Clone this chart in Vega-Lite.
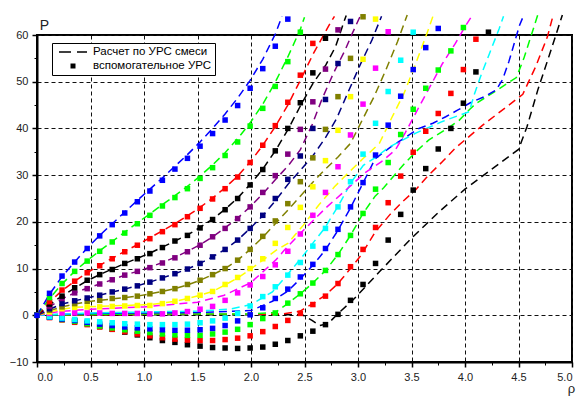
{
"$schema":"https://vega.github.io/schema/vega-lite/v6.json",
"width":535,"height":327,
"autosize":{"type":"none"},
"padding":{"left":37,"top":35,"right":6,"bottom":35},
"background":"white",
"config":{"view":{"stroke":"black","strokeWidth":2},"font":"Liberation Sans"},
"datasets":{
"pts":[
{"s":1,"r":0,"p":0},{"s":1,"r":0.117,"p":-0.3},{"s":1,"r":0.234,"p":-0.7},{"s":1,"r":0.352,"p":-1.2},{"s":1,"r":0.469,"p":-1.8},{"s":1,"r":0.586,"p":-2.4},{"s":1,"r":0.703,"p":-3.0},{"s":1,"r":0.82,"p":-3.6},{"s":1,"r":0.938,"p":-4.2},{"s":1,"r":1.055,"p":-4.8},{"s":1,"r":1.172,"p":-5.4},{"s":1,"r":1.289,"p":-5.8},{"s":1,"r":1.406,"p":-6.3},{"s":1,"r":1.524,"p":-6.6},{"s":1,"r":1.641,"p":-6.9},{"s":1,"r":1.758,"p":-7.0},{"s":1,"r":1.875,"p":-7.1},{"s":1,"r":1.992,"p":-7.0},{"s":1,"r":2.11,"p":-6.8},{"s":1,"r":2.227,"p":-6.2},{"s":1,"r":2.344,"p":-5.4},{"s":1,"r":2.461,"p":-4.4},{"s":1,"r":2.578,"p":-3.4},{"s":1,"r":2.696,"p":-2.0},{"s":1,"r":2.813,"p":0.2},{"s":1,"r":2.93,"p":3.2},{"s":1,"r":3.047,"p":6.6},{"s":1,"r":3.164,"p":11.1},{"s":1,"r":3.282,"p":16.1},{"s":1,"r":3.399,"p":21.6},{"s":1,"r":3.516,"p":26.8},{"s":1,"r":3.633,"p":31.4},{"s":1,"r":3.75,"p":35.6},{"s":1,"r":3.868,"p":40.0},{"s":1,"r":3.985,"p":45.4},{"s":1,"r":4.102,"p":52.1},{"s":1,"r":4.219,"p":60.6},
{"s":2,"r":0,"p":0},{"s":2,"r":0.117,"p":-0.5},{"s":2,"r":0.234,"p":-1.0},{"s":2,"r":0.352,"p":-1.5},{"s":2,"r":0.469,"p":-2.0},{"s":2,"r":0.586,"p":-2.5},{"s":2,"r":0.703,"p":-3.0},{"s":2,"r":0.82,"p":-3.5},{"s":2,"r":0.938,"p":-4.0},{"s":2,"r":1.055,"p":-4.4},{"s":2,"r":1.172,"p":-4.8},{"s":2,"r":1.289,"p":-5.1},{"s":2,"r":1.406,"p":-5.3},{"s":2,"r":1.524,"p":-5.4},{"s":2,"r":1.641,"p":-5.4},{"s":2,"r":1.758,"p":-5.2},{"s":2,"r":1.875,"p":-4.9},{"s":2,"r":1.992,"p":-4.4},{"s":2,"r":2.11,"p":-3.5},{"s":2,"r":2.227,"p":-2.4},{"s":2,"r":2.344,"p":-1.1},{"s":2,"r":2.461,"p":0.4},{"s":2,"r":2.578,"p":2.3},{"s":2,"r":2.696,"p":4.1},{"s":2,"r":2.813,"p":6.8},{"s":2,"r":2.93,"p":10.4},{"s":2,"r":3.047,"p":14.1},{"s":2,"r":3.164,"p":18.8},{"s":2,"r":3.282,"p":24.1},{"s":2,"r":3.399,"p":29.8},{"s":2,"r":3.516,"p":34.9},{"s":2,"r":3.633,"p":39.4},{"s":2,"r":3.75,"p":43.2},{"s":2,"r":3.868,"p":47.5},{"s":2,"r":3.985,"p":52.6},{"s":2,"r":4.102,"p":59.1},
{"s":3,"r":0,"p":0},{"s":3,"r":0.117,"p":-0.4},{"s":3,"r":0.234,"p":-0.9},{"s":3,"r":0.352,"p":-1.3},{"s":3,"r":0.469,"p":-1.8},{"s":3,"r":0.586,"p":-2.3},{"s":3,"r":0.703,"p":-2.7},{"s":3,"r":0.82,"p":-3.1},{"s":3,"r":0.938,"p":-3.4},{"s":3,"r":1.055,"p":-3.7},{"s":3,"r":1.172,"p":-4.0},{"s":3,"r":1.289,"p":-4.2},{"s":3,"r":1.406,"p":-4.3},{"s":3,"r":1.524,"p":-4.3},{"s":3,"r":1.641,"p":-4.0},{"s":3,"r":1.758,"p":-3.6},{"s":3,"r":1.875,"p":-3.0},{"s":3,"r":1.992,"p":-2.0},{"s":3,"r":2.11,"p":-0.7},{"s":3,"r":2.227,"p":0.5},{"s":3,"r":2.344,"p":2.6},{"s":3,"r":2.461,"p":4.6},{"s":3,"r":2.578,"p":6.9},{"s":3,"r":2.696,"p":9.6},{"s":3,"r":2.813,"p":13.0},{"s":3,"r":2.93,"p":17.1},{"s":3,"r":3.047,"p":21.8},{"s":3,"r":3.164,"p":27.0},{"s":3,"r":3.282,"p":32.7},{"s":3,"r":3.399,"p":38.7},{"s":3,"r":3.516,"p":44.1},{"s":3,"r":3.633,"p":48.6},{"s":3,"r":3.75,"p":52.5},{"s":3,"r":3.868,"p":56.6},{"s":3,"r":3.985,"p":61.6},
{"s":4,"r":0,"p":0},{"s":4,"r":0.117,"p":-0.4},{"s":4,"r":0.234,"p":-0.8},{"s":4,"r":0.352,"p":-1.1},{"s":4,"r":0.469,"p":-1.5},{"s":4,"r":0.586,"p":-1.9},{"s":4,"r":0.703,"p":-2.2},{"s":4,"r":0.82,"p":-2.5},{"s":4,"r":0.938,"p":-2.7},{"s":4,"r":1.055,"p":-2.9},{"s":4,"r":1.172,"p":-3.1},{"s":4,"r":1.289,"p":-3.2},{"s":4,"r":1.406,"p":-3.2},{"s":4,"r":1.524,"p":-3.1},{"s":4,"r":1.641,"p":-2.8},{"s":4,"r":1.758,"p":-2.2},{"s":4,"r":1.875,"p":-1.2},{"s":4,"r":1.992,"p":0.1},{"s":4,"r":2.11,"p":1.6},{"s":4,"r":2.227,"p":3.6},{"s":4,"r":2.344,"p":5.6},{"s":4,"r":2.461,"p":8.2},{"s":4,"r":2.578,"p":10.9},{"s":4,"r":2.696,"p":14.3},{"s":4,"r":2.813,"p":18.4},{"s":4,"r":2.93,"p":23.2},{"s":4,"r":3.047,"p":28.4},{"s":4,"r":3.164,"p":34.3},{"s":4,"r":3.282,"p":40.7},{"s":4,"r":3.399,"p":46.9},{"s":4,"r":3.516,"p":52.6},{"s":4,"r":3.633,"p":57.3},{"s":4,"r":3.75,"p":61.4},
{"s":5,"r":0,"p":0},{"s":5,"r":0.117,"p":-0.3},{"s":5,"r":0.234,"p":-0.6},{"s":5,"r":0.352,"p":-0.9},{"s":5,"r":0.469,"p":-1.2},{"s":5,"r":0.586,"p":-1.4},{"s":5,"r":0.703,"p":-1.6},{"s":5,"r":0.82,"p":-1.8},{"s":5,"r":0.938,"p":-1.9},{"s":5,"r":1.055,"p":-2.0},{"s":5,"r":1.172,"p":-2.0},{"s":5,"r":1.289,"p":-2.0},{"s":5,"r":1.406,"p":-1.9},{"s":5,"r":1.524,"p":-1.6},{"s":5,"r":1.641,"p":-1.2},{"s":5,"r":1.758,"p":-0.6},{"s":5,"r":1.875,"p":0.4},{"s":5,"r":1.992,"p":2.0},{"s":5,"r":2.11,"p":4.0},{"s":5,"r":2.227,"p":6.1},{"s":5,"r":2.344,"p":8.6},{"s":5,"r":2.461,"p":11.3},{"s":5,"r":2.578,"p":14.8},{"s":5,"r":2.696,"p":18.6},{"s":5,"r":2.813,"p":23.2},{"s":5,"r":2.93,"p":28.6},{"s":5,"r":3.047,"p":34.5},{"s":5,"r":3.164,"p":41.1},{"s":5,"r":3.282,"p":47.9},{"s":5,"r":3.399,"p":54.6},{"s":5,"r":3.516,"p":60.6},
{"s":6,"r":0,"p":0},{"s":6,"r":0.117,"p":0.4},{"s":6,"r":0.234,"p":0.5},{"s":6,"r":0.352,"p":0.5},{"s":6,"r":0.469,"p":0.5},{"s":6,"r":0.586,"p":0.5},{"s":6,"r":0.703,"p":0.4},{"s":6,"r":0.82,"p":0.4},{"s":6,"r":0.938,"p":0.4},{"s":6,"r":1.055,"p":0.3},{"s":6,"r":1.172,"p":0.3},{"s":6,"r":1.289,"p":0.5},{"s":6,"r":1.406,"p":0.8},{"s":6,"r":1.524,"p":1.3},{"s":6,"r":1.641,"p":1.9},{"s":6,"r":1.758,"p":3.2},{"s":6,"r":1.875,"p":4.8},{"s":6,"r":1.992,"p":6.5},{"s":6,"r":2.11,"p":8.3},{"s":6,"r":2.227,"p":10.8},{"s":6,"r":2.344,"p":13.7},{"s":6,"r":2.461,"p":17.4},{"s":6,"r":2.578,"p":21.4},{"s":6,"r":2.696,"p":26.3},{"s":6,"r":2.813,"p":31.8},{"s":6,"r":2.93,"p":38.6},{"s":6,"r":3.047,"p":45.2},{"s":6,"r":3.164,"p":52.9},{"s":6,"r":3.282,"p":60.7},
{"s":7,"r":0,"p":0},{"s":7,"r":0.117,"p":0.7},{"s":7,"r":0.234,"p":1.4},{"s":7,"r":0.352,"p":1.7},{"s":7,"r":0.469,"p":1.8},{"s":7,"r":0.586,"p":1.8},{"s":7,"r":0.703,"p":1.9},{"s":7,"r":0.82,"p":2.0},{"s":7,"r":0.938,"p":2.1},{"s":7,"r":1.055,"p":2.1},{"s":7,"r":1.172,"p":2.5},{"s":7,"r":1.289,"p":3.0},{"s":7,"r":1.406,"p":3.6},{"s":7,"r":1.524,"p":4.3},{"s":7,"r":1.641,"p":5.1},{"s":7,"r":1.758,"p":6.6},{"s":7,"r":1.875,"p":8.1},{"s":7,"r":1.992,"p":10.0},{"s":7,"r":2.11,"p":12.1},{"s":7,"r":2.227,"p":15.4},{"s":7,"r":2.344,"p":18.8},{"s":7,"r":2.461,"p":23.1},{"s":7,"r":2.578,"p":27.5},{"s":7,"r":2.696,"p":33.1},{"s":7,"r":2.813,"p":39.6},{"s":7,"r":2.93,"p":46.8},{"s":7,"r":3.047,"p":54.8},{"s":7,"r":3.164,"p":63.4},
{"s":8,"r":0,"p":0},{"s":8,"r":0.117,"p":1.1},{"s":8,"r":0.234,"p":1.8},{"s":8,"r":0.352,"p":2.5},{"s":8,"r":0.469,"p":3.0},{"s":8,"r":0.586,"p":3.2},{"s":8,"r":0.703,"p":3.6},{"s":8,"r":0.82,"p":3.8},{"s":8,"r":0.938,"p":4.1},{"s":8,"r":1.055,"p":4.6},{"s":8,"r":1.172,"p":5.1},{"s":8,"r":1.289,"p":5.7},{"s":8,"r":1.406,"p":6.6},{"s":8,"r":1.524,"p":7.5},{"s":8,"r":1.641,"p":8.7},{"s":8,"r":1.758,"p":10.0},{"s":8,"r":1.875,"p":11.8},{"s":8,"r":1.992,"p":14.1},{"s":8,"r":2.11,"p":16.9},{"s":8,"r":2.227,"p":20.2},{"s":8,"r":2.344,"p":23.9},{"s":8,"r":2.461,"p":28.6},{"s":8,"r":2.578,"p":33.7},{"s":8,"r":2.696,"p":39.8},{"s":8,"r":2.813,"p":46.8},{"s":8,"r":2.93,"p":55.0},{"s":8,"r":3.047,"p":63.9},
{"s":9,"r":0,"p":0},{"s":9,"r":0.117,"p":1.4},{"s":9,"r":0.234,"p":2.5},{"s":9,"r":0.352,"p":3.1},{"s":9,"r":0.469,"p":3.7},{"s":9,"r":0.586,"p":4.3},{"s":9,"r":0.703,"p":5.0},{"s":9,"r":0.82,"p":5.6},{"s":9,"r":0.938,"p":6.3},{"s":9,"r":1.055,"p":7.1},{"s":9,"r":1.172,"p":8.0},{"s":9,"r":1.289,"p":8.9},{"s":9,"r":1.406,"p":9.9},{"s":9,"r":1.524,"p":11.1},{"s":9,"r":1.641,"p":12.5},{"s":9,"r":1.758,"p":14.1},{"s":9,"r":1.875,"p":16.1},{"s":9,"r":1.992,"p":18.6},{"s":9,"r":2.11,"p":21.4},{"s":9,"r":2.227,"p":25.0},{"s":9,"r":2.344,"p":29.1},{"s":9,"r":2.461,"p":34.1},{"s":9,"r":2.578,"p":40.0},{"s":9,"r":2.696,"p":46.2},{"s":9,"r":2.813,"p":53.9},{"s":9,"r":2.93,"p":62.9},
{"s":10,"r":0,"p":0},{"s":10,"r":0.117,"p":1.9},{"s":10,"r":0.234,"p":3.6},{"s":10,"r":0.352,"p":4.8},{"s":10,"r":0.469,"p":5.7},{"s":10,"r":0.586,"p":6.7},{"s":10,"r":0.703,"p":7.6},{"s":10,"r":0.82,"p":8.6},{"s":10,"r":0.938,"p":9.4},{"s":10,"r":1.055,"p":10.2},{"s":10,"r":1.172,"p":11.2},{"s":10,"r":1.289,"p":12.3},{"s":10,"r":1.406,"p":13.6},{"s":10,"r":1.524,"p":15.0},{"s":10,"r":1.641,"p":16.8},{"s":10,"r":1.758,"p":18.6},{"s":10,"r":1.875,"p":20.7},{"s":10,"r":1.992,"p":23.2},{"s":10,"r":2.11,"p":26.3},{"s":10,"r":2.227,"p":29.9},{"s":10,"r":2.344,"p":34.5},{"s":10,"r":2.461,"p":39.8},{"s":10,"r":2.578,"p":45.7},{"s":10,"r":2.696,"p":52.7},{"s":10,"r":2.813,"p":61.1},
{"s":11,"r":0,"p":0},{"s":11,"r":0.117,"p":2.4},{"s":11,"r":0.234,"p":4.1},{"s":11,"r":0.352,"p":5.9},{"s":11,"r":0.469,"p":7.5},{"s":11,"r":0.586,"p":8.7},{"s":11,"r":0.703,"p":9.8},{"s":11,"r":0.82,"p":11.1},{"s":11,"r":0.938,"p":12.1},{"s":11,"r":1.055,"p":13.2},{"s":11,"r":1.172,"p":14.5},{"s":11,"r":1.289,"p":15.9},{"s":11,"r":1.406,"p":17.1},{"s":11,"r":1.524,"p":18.7},{"s":11,"r":1.641,"p":20.5},{"s":11,"r":1.758,"p":22.6},{"s":11,"r":1.875,"p":25.0},{"s":11,"r":1.992,"p":27.9},{"s":11,"r":2.11,"p":31.2},{"s":11,"r":2.227,"p":35.2},{"s":11,"r":2.344,"p":40.0},{"s":11,"r":2.461,"p":45.5},{"s":11,"r":2.578,"p":51.9},{"s":11,"r":2.696,"p":59.3},
{"s":12,"r":0,"p":0},{"s":12,"r":0.117,"p":2.9},{"s":12,"r":0.234,"p":5.4},{"s":12,"r":0.352,"p":7.3},{"s":12,"r":0.469,"p":9.1},{"s":12,"r":0.586,"p":10.6},{"s":12,"r":0.703,"p":12.1},{"s":12,"r":0.82,"p":13.6},{"s":12,"r":0.938,"p":15.0},{"s":12,"r":1.055,"p":16.4},{"s":12,"r":1.172,"p":17.9},{"s":12,"r":1.289,"p":19.4},{"s":12,"r":1.406,"p":21.1},{"s":12,"r":1.524,"p":22.9},{"s":12,"r":1.641,"p":24.9},{"s":12,"r":1.758,"p":27.1},{"s":12,"r":1.875,"p":29.6},{"s":12,"r":1.992,"p":32.7},{"s":12,"r":2.11,"p":36.4},{"s":12,"r":2.227,"p":40.6},{"s":12,"r":2.344,"p":45.6},{"s":12,"r":2.461,"p":51.4},{"s":12,"r":2.578,"p":58.2},
{"s":13,"r":0,"p":0},{"s":13,"r":0.117,"p":3.8},{"s":13,"r":0.234,"p":6.8},{"s":13,"r":0.352,"p":9.4},{"s":13,"r":0.469,"p":11.6},{"s":13,"r":0.586,"p":13.7},{"s":13,"r":0.703,"p":15.7},{"s":13,"r":0.82,"p":17.6},{"s":13,"r":0.938,"p":19.6},{"s":13,"r":1.055,"p":21.4},{"s":13,"r":1.172,"p":23.4},{"s":13,"r":1.289,"p":25.2},{"s":13,"r":1.406,"p":27.1},{"s":13,"r":1.524,"p":29.3},{"s":13,"r":1.641,"p":31.6},{"s":13,"r":1.758,"p":34.2},{"s":13,"r":1.875,"p":37.1},{"s":13,"r":1.992,"p":40.5},{"s":13,"r":2.11,"p":44.3},{"s":13,"r":2.227,"p":49.0},{"s":13,"r":2.344,"p":54.3},{"s":13,"r":2.461,"p":60.6},
{"s":14,"r":0,"p":0},{"s":14,"r":0.117,"p":4.7},{"s":14,"r":0.234,"p":8.4},{"s":14,"r":0.352,"p":11.4},{"s":14,"r":0.469,"p":14.3},{"s":14,"r":0.586,"p":17.0},{"s":14,"r":0.703,"p":19.4},{"s":14,"r":0.82,"p":21.9},{"s":14,"r":0.938,"p":24.3},{"s":14,"r":1.055,"p":26.6},{"s":14,"r":1.172,"p":28.9},{"s":14,"r":1.289,"p":31.3},{"s":14,"r":1.406,"p":33.6},{"s":14,"r":1.524,"p":36.2},{"s":14,"r":1.641,"p":38.9},{"s":14,"r":1.758,"p":41.8},{"s":14,"r":1.875,"p":44.9},{"s":14,"r":1.992,"p":48.6},{"s":14,"r":2.11,"p":52.8},{"s":14,"r":2.227,"p":57.6},{"s":14,"r":2.344,"p":63.4}
],
"lns":[
{"s":1,"r":0,"p":0},{"s":1,"r":1.0,"p":0.1},{"s":1,"r":2.0,"p":0.1},{"s":1,"r":2.48,"p":0.1},{"s":1,"r":2.57,"p":-1.1},{"s":1,"r":2.64,"p":-2.2},{"s":1,"r":2.72,"p":-1.8},{"s":1,"r":2.81,"p":0.3},{"s":1,"r":2.95,"p":3.2},{"s":1,"r":3.2,"p":9.3},{"s":1,"r":3.5,"p":16.5},{"s":1,"r":3.75,"p":22.0},{"s":1,"r":4.0,"p":27.0},{"s":1,"r":4.25,"p":31.3},{"s":1,"r":4.5,"p":35.5},{"s":1,"r":4.58,"p":40.4},{"s":1,"r":4.68,"p":48.2},{"s":1,"r":4.8,"p":56.5},{"s":1,"r":4.91,"p":64.3},
{"s":2,"r":0,"p":0},{"s":2,"r":1.0,"p":0.2},{"s":2,"r":2.0,"p":0.2},{"s":2,"r":2.3,"p":0.3},{"s":2,"r":2.46,"p":0.9},{"s":2,"r":2.578,"p":2.5},{"s":2,"r":2.696,"p":4.3},{"s":2,"r":2.813,"p":6.8},{"s":2,"r":2.93,"p":10.0},{"s":2,"r":3.03,"p":12.9},{"s":2,"r":3.16,"p":17.8},{"s":2,"r":3.3,"p":21.6},{"s":2,"r":3.42,"p":24.4},{"s":2,"r":3.54,"p":26.9},{"s":2,"r":3.66,"p":30.0},{"s":2,"r":3.79,"p":32.9},{"s":2,"r":3.91,"p":35.8},{"s":2,"r":4.04,"p":38.3},{"s":2,"r":4.16,"p":40.6},{"s":2,"r":4.29,"p":42.9},{"s":2,"r":4.41,"p":45.0},{"s":2,"r":4.54,"p":47.3},{"s":2,"r":4.66,"p":53.2},{"s":2,"r":4.77,"p":59.6},{"s":2,"r":4.82,"p":63.9},
{"s":3,"r":0,"p":0},{"s":3,"r":1.0,"p":0.3},{"s":3,"r":2.0,"p":0.3},{"s":3,"r":2.227,"p":0.6},{"s":3,"r":2.344,"p":2.5},{"s":3,"r":2.461,"p":4.6},{"s":3,"r":2.578,"p":6.9},{"s":3,"r":2.696,"p":9.6},{"s":3,"r":2.813,"p":13.0},{"s":3,"r":2.93,"p":17.1},{"s":3,"r":3.047,"p":21.8},{"s":3,"r":3.16,"p":25.5},{"s":3,"r":3.24,"p":27.3},{"s":3,"r":3.34,"p":30.0},{"s":3,"r":3.44,"p":32.6},{"s":3,"r":3.54,"p":35.0},{"s":3,"r":3.66,"p":37.5},{"s":3,"r":3.82,"p":39.8},{"s":3,"r":3.94,"p":41.6},{"s":3,"r":4.04,"p":44.0},{"s":3,"r":4.1,"p":45.3},{"s":3,"r":4.21,"p":46.9},{"s":3,"r":4.32,"p":48.5},{"s":3,"r":4.48,"p":50.9},{"s":3,"r":4.55,"p":55.0},{"s":3,"r":4.63,"p":60.7},{"s":3,"r":4.68,"p":64.3},
{"s":4,"r":0,"p":0},{"s":4,"r":0.5,"p":0.4},{"s":4,"r":1.0,"p":0.5},{"s":4,"r":1.5,"p":0.6},{"s":4,"r":2.0,"p":1.0},{"s":4,"r":2.2,"p":3.0},{"s":4,"r":2.344,"p":5.2},{"s":4,"r":2.461,"p":7.8},{"s":4,"r":2.578,"p":10.7},{"s":4,"r":2.696,"p":14.0},{"s":4,"r":2.813,"p":18.2},{"s":4,"r":2.93,"p":23.0},{"s":4,"r":3.047,"p":28.3},{"s":4,"r":3.16,"p":33.5},{"s":4,"r":3.31,"p":36.1},{"s":4,"r":3.43,"p":37.9},{"s":4,"r":3.57,"p":40.0},{"s":4,"r":3.7,"p":41.1},{"s":4,"r":3.82,"p":42.5},{"s":4,"r":3.93,"p":43.9},{"s":4,"r":4.05,"p":45.5},{"s":4,"r":4.18,"p":46.8},{"s":4,"r":4.29,"p":48.2},{"s":4,"r":4.35,"p":50.4},{"s":4,"r":4.41,"p":54.3},{"s":4,"r":4.51,"p":62.1},{"s":4,"r":4.55,"p":64.3},
{"s":5,"r":0,"p":0},{"s":5,"r":0.5,"p":0.5},{"s":5,"r":1.0,"p":0.7},{"s":5,"r":1.5,"p":0.9},{"s":5,"r":1.8,"p":1.3},{"s":5,"r":2.0,"p":2.3},{"s":5,"r":2.2,"p":5.0},{"s":5,"r":2.344,"p":8.8},{"s":5,"r":2.461,"p":12.0},{"s":5,"r":2.58,"p":15.5},{"s":5,"r":2.69,"p":18.7},{"s":5,"r":2.81,"p":23.2},{"s":5,"r":2.94,"p":28.6},{"s":5,"r":3.05,"p":32.1},{"s":5,"r":3.17,"p":33.9},{"s":5,"r":3.29,"p":36.0},{"s":5,"r":3.54,"p":39.0},{"s":5,"r":3.79,"p":41.5},{"s":5,"r":4.04,"p":43.6},{"s":5,"r":4.09,"p":47.5},{"s":5,"r":4.15,"p":51.4},{"s":5,"r":4.23,"p":56.1},{"s":5,"r":4.32,"p":61.4},{"s":5,"r":4.36,"p":64.0},
{"s":6,"r":0,"p":0},{"s":6,"r":0.2,"p":0.8},{"s":6,"r":0.5,"p":1.3},{"s":6,"r":1.0,"p":1.8},{"s":6,"r":1.5,"p":2.8},{"s":6,"r":1.75,"p":4.3},{"s":6,"r":2.0,"p":7.0},{"s":6,"r":2.23,"p":11.8},{"s":6,"r":2.31,"p":13.9},{"s":6,"r":2.46,"p":17.5},{"s":6,"r":2.7,"p":23.0},{"s":6,"r":2.94,"p":27.9},{"s":6,"r":3.06,"p":30.4},{"s":6,"r":3.22,"p":32.9},{"s":6,"r":3.35,"p":35.4},{"s":6,"r":3.44,"p":39.0},{"s":6,"r":3.57,"p":44.6},{"s":6,"r":3.79,"p":53.9},{"s":6,"r":3.91,"p":58.2},{"s":6,"r":4.0,"p":61.8},{"s":6,"r":4.07,"p":64.3},
{"s":7,"r":0,"p":0},{"s":7,"r":0.117,"p":0.7},{"s":7,"r":0.234,"p":1.3},{"s":7,"r":0.352,"p":1.7},{"s":7,"r":0.469,"p":1.8},{"s":7,"r":0.586,"p":1.9},{"s":7,"r":0.703,"p":2.0},{"s":7,"r":0.82,"p":2.1},{"s":7,"r":0.938,"p":2.2},{"s":7,"r":1.055,"p":2.3},{"s":7,"r":1.172,"p":2.6},{"s":7,"r":1.289,"p":3.0},{"s":7,"r":1.406,"p":3.6},{"s":7,"r":1.524,"p":4.3},{"s":7,"r":1.641,"p":5.1},{"s":7,"r":1.758,"p":6.5},{"s":7,"r":1.875,"p":8.0},{"s":7,"r":1.992,"p":9.8},{"s":7,"r":2.11,"p":11.8},{"s":7,"r":2.227,"p":13.8},{"s":7,"r":2.344,"p":15.4},{"s":7,"r":2.49,"p":19.3},{"s":7,"r":2.63,"p":23.5},{"s":7,"r":2.78,"p":27.5},{"s":7,"r":2.91,"p":30.5},{"s":7,"r":3.05,"p":33.6},{"s":7,"r":3.2,"p":36.8},{"s":7,"r":3.32,"p":42.5},{"s":7,"r":3.43,"p":47.5},{"s":7,"r":3.54,"p":53.9},{"s":7,"r":3.65,"p":60.7},{"s":7,"r":3.7,"p":64.0},
{"s":8,"r":0,"p":0},{"s":8,"r":0.117,"p":1.0},{"s":8,"r":0.234,"p":1.8},{"s":8,"r":0.352,"p":2.4},{"s":8,"r":0.469,"p":2.9},{"s":8,"r":0.586,"p":3.2},{"s":8,"r":0.703,"p":3.5},{"s":8,"r":0.82,"p":3.8},{"s":8,"r":0.938,"p":4.1},{"s":8,"r":1.055,"p":4.6},{"s":8,"r":1.172,"p":5.1},{"s":8,"r":1.289,"p":5.7},{"s":8,"r":1.406,"p":6.5},{"s":8,"r":1.524,"p":7.5},{"s":8,"r":1.641,"p":8.7},{"s":8,"r":1.758,"p":10.0},{"s":8,"r":1.875,"p":11.8},{"s":8,"r":1.992,"p":14.1},{"s":8,"r":2.11,"p":16.7},{"s":8,"r":2.227,"p":19.6},{"s":8,"r":2.344,"p":22.5},{"s":8,"r":2.461,"p":25.5},{"s":8,"r":2.578,"p":28.5},{"s":8,"r":2.696,"p":31.3},{"s":8,"r":2.813,"p":33.9},{"s":8,"r":2.93,"p":36.8},{"s":8,"r":3.04,"p":41.8},{"s":8,"r":3.15,"p":46.8},{"s":8,"r":3.26,"p":52.5},{"s":8,"r":3.37,"p":58.6},{"s":8,"r":3.46,"p":64.3},
{"s":9,"r":0,"p":0},{"s":9,"r":0.117,"p":1.3},{"s":9,"r":0.234,"p":2.4},{"s":9,"r":0.352,"p":3.1},{"s":9,"r":0.469,"p":3.7},{"s":9,"r":0.586,"p":4.3},{"s":9,"r":0.703,"p":5.0},{"s":9,"r":0.82,"p":5.6},{"s":9,"r":0.938,"p":6.3},{"s":9,"r":1.055,"p":7.1},{"s":9,"r":1.172,"p":8.0},{"s":9,"r":1.289,"p":8.9},{"s":9,"r":1.406,"p":9.9},{"s":9,"r":1.524,"p":11.1},{"s":9,"r":1.641,"p":12.5},{"s":9,"r":1.758,"p":14.1},{"s":9,"r":1.875,"p":16.1},{"s":9,"r":1.992,"p":18.6},{"s":9,"r":2.11,"p":21.3},{"s":9,"r":2.227,"p":24.5},{"s":9,"r":2.344,"p":28.0},{"s":9,"r":2.46,"p":31.0},{"s":9,"r":2.58,"p":34.2},{"s":9,"r":2.69,"p":37.8},{"s":9,"r":2.8,"p":42.1},{"s":9,"r":2.91,"p":47.9},{"s":9,"r":3.02,"p":53.6},{"s":9,"r":3.13,"p":58.9},{"s":9,"r":3.22,"p":64.0},
{"s":10,"r":0,"p":0},{"s":10,"r":0.117,"p":1.8},{"s":10,"r":0.234,"p":3.5},{"s":10,"r":0.352,"p":4.8},{"s":10,"r":0.469,"p":5.8},{"s":10,"r":0.586,"p":6.7},{"s":10,"r":0.703,"p":7.6},{"s":10,"r":0.82,"p":8.6},{"s":10,"r":0.938,"p":9.4},{"s":10,"r":1.055,"p":10.3},{"s":10,"r":1.172,"p":11.3},{"s":10,"r":1.289,"p":12.4},{"s":10,"r":1.406,"p":13.7},{"s":10,"r":1.524,"p":15.1},{"s":10,"r":1.641,"p":16.8},{"s":10,"r":1.758,"p":18.7},{"s":10,"r":1.875,"p":20.8},{"s":10,"r":1.992,"p":23.2},{"s":10,"r":2.11,"p":26.0},{"s":10,"r":2.227,"p":29.0},{"s":10,"r":2.35,"p":32.1},{"s":10,"r":2.46,"p":35.4},{"s":10,"r":2.57,"p":40.7},{"s":10,"r":2.66,"p":46.1},{"s":10,"r":2.77,"p":51.8},{"s":10,"r":2.88,"p":56.8},{"s":10,"r":2.95,"p":60.5},{"s":10,"r":3.02,"p":64.0},
{"s":11,"r":0,"p":0},{"s":11,"r":0.117,"p":2.3},{"s":11,"r":0.234,"p":4.1},{"s":11,"r":0.352,"p":5.8},{"s":11,"r":0.469,"p":7.4},{"s":11,"r":0.586,"p":8.7},{"s":11,"r":0.703,"p":9.9},{"s":11,"r":0.82,"p":11.1},{"s":11,"r":0.938,"p":12.2},{"s":11,"r":1.055,"p":13.3},{"s":11,"r":1.172,"p":14.6},{"s":11,"r":1.289,"p":15.9},{"s":11,"r":1.406,"p":17.2},{"s":11,"r":1.524,"p":18.8},{"s":11,"r":1.641,"p":20.6},{"s":11,"r":1.758,"p":22.7},{"s":11,"r":1.875,"p":25.1},{"s":11,"r":1.992,"p":28.0},{"s":11,"r":2.11,"p":31.3},{"s":11,"r":2.227,"p":35.2},{"s":11,"r":2.344,"p":39.7},{"s":11,"r":2.461,"p":44.8},{"s":11,"r":2.578,"p":49.6},{"s":11,"r":2.7,"p":53.6},{"s":11,"r":2.79,"p":57.5},{"s":11,"r":2.87,"p":62.9},{"s":11,"r":2.89,"p":64.2},
{"s":12,"r":0,"p":0},{"s":12,"r":0.117,"p":2.8},{"s":12,"r":0.234,"p":5.3},{"s":12,"r":0.352,"p":7.3},{"s":12,"r":0.469,"p":9.1},{"s":12,"r":0.586,"p":10.7},{"s":12,"r":0.703,"p":12.2},{"s":12,"r":0.82,"p":13.7},{"s":12,"r":0.938,"p":15.1},{"s":12,"r":1.055,"p":16.6},{"s":12,"r":1.172,"p":18.1},{"s":12,"r":1.289,"p":19.6},{"s":12,"r":1.406,"p":21.3},{"s":12,"r":1.524,"p":23.1},{"s":12,"r":1.641,"p":25.1},{"s":12,"r":1.758,"p":27.3},{"s":12,"r":1.875,"p":29.8},{"s":12,"r":1.992,"p":32.8},{"s":12,"r":2.11,"p":36.4},{"s":12,"r":2.227,"p":40.4},{"s":12,"r":2.344,"p":45.0},{"s":12,"r":2.461,"p":50.3},{"s":12,"r":2.578,"p":55.8},{"s":12,"r":2.65,"p":58.8},{"s":12,"r":2.74,"p":62.5},{"s":12,"r":2.78,"p":64.0},
{"s":13,"r":0,"p":0},{"s":13,"r":0.117,"p":3.6},{"s":13,"r":0.234,"p":6.7},{"s":13,"r":0.352,"p":9.4},{"s":13,"r":0.469,"p":11.7},{"s":13,"r":0.586,"p":13.8},{"s":13,"r":0.703,"p":15.8},{"s":13,"r":0.82,"p":17.8},{"s":13,"r":0.938,"p":19.8},{"s":13,"r":1.055,"p":21.7},{"s":13,"r":1.172,"p":23.7},{"s":13,"r":1.289,"p":25.6},{"s":13,"r":1.406,"p":27.6},{"s":13,"r":1.524,"p":29.8},{"s":13,"r":1.641,"p":32.2},{"s":13,"r":1.758,"p":34.8},{"s":13,"r":1.875,"p":37.8},{"s":13,"r":1.992,"p":41.2},{"s":13,"r":2.11,"p":45.2},{"s":13,"r":2.227,"p":49.9},{"s":13,"r":2.344,"p":55.3},{"s":13,"r":2.461,"p":61.2},{"s":13,"r":2.5,"p":63.8},
{"s":14,"r":0,"p":0},{"s":14,"r":0.117,"p":4.5},{"s":14,"r":0.234,"p":8.3},{"s":14,"r":0.352,"p":11.4},{"s":14,"r":0.469,"p":14.4},{"s":14,"r":0.586,"p":17.1},{"s":14,"r":0.703,"p":19.6},{"s":14,"r":0.82,"p":22.1},{"s":14,"r":0.938,"p":24.6},{"s":14,"r":1.055,"p":27.0},{"s":14,"r":1.172,"p":29.4},{"s":14,"r":1.289,"p":31.9},{"s":14,"r":1.406,"p":34.4},{"s":14,"r":1.524,"p":37.1},{"s":14,"r":1.641,"p":40.0},{"s":14,"r":1.758,"p":43.1},{"s":14,"r":1.875,"p":46.5},{"s":14,"r":1.992,"p":50.3},{"s":14,"r":2.11,"p":54.8},{"s":14,"r":2.227,"p":60.2},{"s":14,"r":2.29,"p":64.0}
]},
"layer":[
{"data":{"name":"lns"},
 "mark":{"type":"line","strokeDash":[8,5],"strokeWidth":1.5},
 "encoding":{
  "x":{"field":"r","type":"quantitative","scale":{"domain":[0,5],"nice":false,"zero":false},
   "axis":{"values":[0,0.5,1,1.5,2,2.5,3,3.5,4,4.5,5],"format":".1f","orient":"bottom","grid":true,"gridColor":"#111","gridDash":[4,3],"gridWidth":1,"domainColor":"black","domainWidth":2,"tickColor":"black","tickWidth":1.5,"tickSize":5,"labelFontSize":11,"labelColor":"#222","labelPadding":4,"title":"ρ","titleX":534,"titleY":26,"titleFontSize":13,"titleFontWeight":"normal","titleColor":"#222","titleAlign":"center","titleBaseline":"middle"}},
  "y":{"field":"p","type":"quantitative","scale":{"domain":[-10,60],"nice":false,"zero":false},
   "axis":{"values":[-10,0,10,20,30,40,50,60],"orient":"left","grid":true,"gridColor":"#111","gridDash":[4,3],"gridWidth":1,"domainColor":"black","domainWidth":2,"tickColor":"black","tickWidth":1.5,"tickSize":5,"labelFontSize":11,"labelColor":"#222","labelPadding":4,"title":"P","titleAngle":0,"titleX":7,"titleY":-10,"titleFontSize":14,"titleFontWeight":"normal","titleColor":"#222","titleAlign":"center","titleBaseline":"middle"}},
  "color":{"field":"s","type":"nominal","scale":{"domain":[1,2,3,4,5,6,7,8,9,10,11,12,13,14],"range":["#000000","#FF0000","#00FF00","#0000FF","#00FFFF","#FF00FF","#FFFF00","#808000","#000080","#800080","#000000","#FF0000","#00FF00","#0000FF"]},"legend":null}
 }},
{"data":{"name":"pts"},
 "mark":{"type":"point","filled":true,"opacity":1,"size":121,"strokeWidth":0},
 "encoding":{
  "x":{"field":"r","type":"quantitative","axis":{"values":[0.25,0.75,1.25,1.75,2.25,2.75,3.25,3.75,4.25,4.75],"orient":"bottom","labels":false,"grid":false,"domain":false,"tickColor":"black","tickWidth":1,"tickSize":3,"title":null}},
  "y":{"field":"p","type":"quantitative","axis":{"values":[-5,5,15,25,35,45,55],"orient":"left","labels":false,"grid":false,"domain":false,"tickColor":"black","tickWidth":1,"tickSize":3,"title":null}},
  "color":{"field":"s","type":"nominal","legend":null},
  "shape":{"datum":"вспомогательное УРС","scale":{"domain":["Расчет по УРС смеси","вспомогательное УРС"],"range":["M-2.8,-0.15H-0.4V0.15H-2.8ZM0.8,-0.15H2.8V0.15H0.8Z","M-0.5,-0.5H0.5V0.5H-0.5Z"]},
   "legend":{"title":null,"orient":"none","legendX":15,"legendY":8,"strokeColor":"black","fillColor":"white","padding":3,"rowPadding":2,"symbolSize":100,"symbolOffset":12,"labelOffset":14,"labelFont":"Liberation Sans","labelFontSize":11.5,"labelColor":"black",
    "encode":{"symbols":{"update":{"fill":{"value":"black"},"stroke":{"value":"transparent"},"strokeWidth":{"value":0},"opacity":{"value":1}}}}}}
 }}
],
"resolve":{"axis":{"x":"independent","y":"independent"}}
}
